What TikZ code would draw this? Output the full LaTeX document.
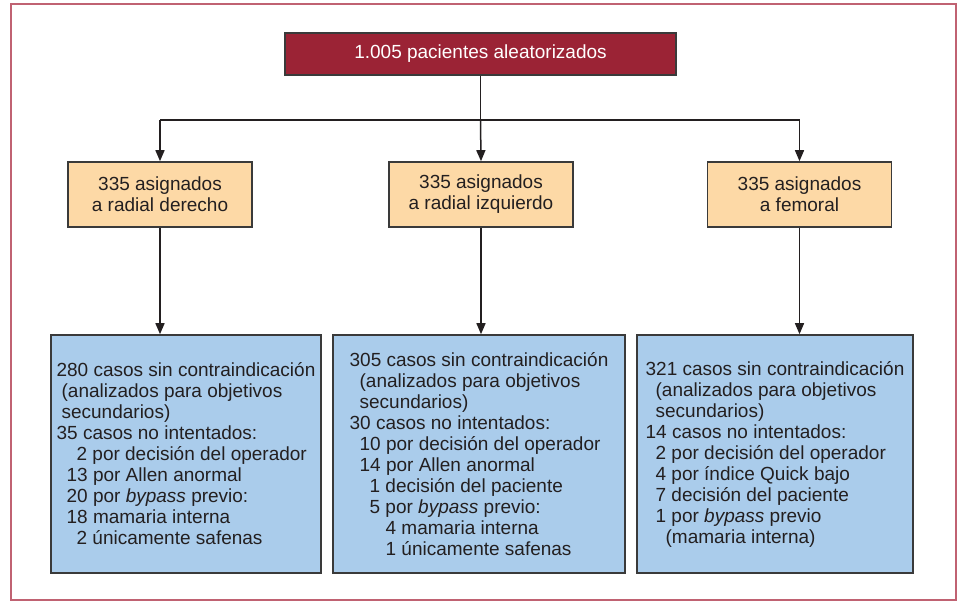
\documentclass[tikz,border=0pt]{standalone}
\usepackage{fontspec}
\setmainfont{Liberation Sans}
\usetikzlibrary{arrows.meta}
\definecolor{topred}{HTML}{9B2335}
\definecolor{peach}{HTML}{FDD9A6}
\definecolor{lblue}{HTML}{AACCEB}
\definecolor{edge}{HTML}{3A3A3A}
\definecolor{txt}{HTML}{231F20}
\definecolor{framec}{HTML}{C06272}
\tikzset{
  box/.style={draw=edge, line width=1.6pt, inner sep=0pt, text=txt, font=\fontsize{19}{21}\selectfont},
  topbox/.style={box, fill=topred, text=white, minimum width=391pt, minimum height=42pt},
  midbox/.style={box, fill=peach, align=center, minimum width=184pt, minimum height=65pt},
  lowbox/.style={box, fill=lblue, align=left, minimum height=238pt},
  conn/.style={draw=txt, line width=1.5pt},
  arr/.style={conn, -{Triangle[length=11pt,width=9pt]}}
}
\newcommand{\ind}[1]{\hspace*{#1pt}}
\begin{document}
\begin{tikzpicture}[x=1pt,y=-1pt]
\useasboundingbox (0,0) rectangle (957,601);
\draw[framec, line width=1.4pt] (11,4) rectangle (956,600);

\node[topbox] (top) at (480.5,54) {1.005 pacientes aleatorizados};

\node[midbox] (m1) at (160,194.5) {335 asignados\\a radial derecho};
\node[midbox] (m2) at (481,194.5) {335 asignados\\a radial izquierdo};
\node[midbox] (m3) at (799.5,194.5) {335 asignados\\a femoral};

\node[lowbox, minimum width=270pt] (b1) at (186,454) {%
280 casos sin contraindicación\\
\ind{5}(analizados para objetivos\\
\ind{5}secundarios)\\
35 casos no intentados:\\
\ind{20}2 por decisión del operador\\
\ind{10}13 por Allen anormal\\
\ind{10}20 por \textit{bypass} previo:\\
\ind{10}18 mamaria interna\\
\ind{20}2 únicamente safenas};

\node[lowbox, minimum width=292pt] (b2) at (479,454) {%
305 casos sin contraindicación\\
\ind{10}(analizados para objetivos\\
\ind{10}secundarios)\\
30 casos no intentados:\\
\ind{10}10 por decisión del operador\\
\ind{10}14 por Allen anormal\\
\ind{20}1 decisión del paciente\\
\ind{20}5 por \textit{bypass} previo:\\
\ind{36}4 mamaria interna\\
\ind{36}1 únicamente safenas};

\node[lowbox, minimum width=276pt] (b3) at (775,454) {%
321 casos sin contraindicación\\
\ind{10}(analizados para objetivos\\
\ind{10}secundarios)\\
14 casos no intentados:\\
\ind{10}2 por decisión del operador\\
\ind{10}4 por índice Quick bajo\\
\ind{10}7 decisión del paciente\\
\ind{10}1 por \textit{bypass} previo\\
\ind{20}(mamaria interna)};

\coordinate (split) at (top.south |- 0,120);
\draw[conn] (top.south) -- (split);
\draw[arr] (split -| m1.north) -- (m1.north);
\draw[conn] (split -| m1.north) -- (split -| m3.north);
\draw[arr] (split -| m3.north) -- (m3.north);
\draw[arr] (split) -- (m2.north);

\draw[arr] (m1.south) -- (m1.south |- b1.north);
\draw[arr] (m2.south) -- (m2.south |- b2.north);
\draw[arr] (m3.south) -- (m3.south |- b3.north);
\end{tikzpicture}
\end{document}
